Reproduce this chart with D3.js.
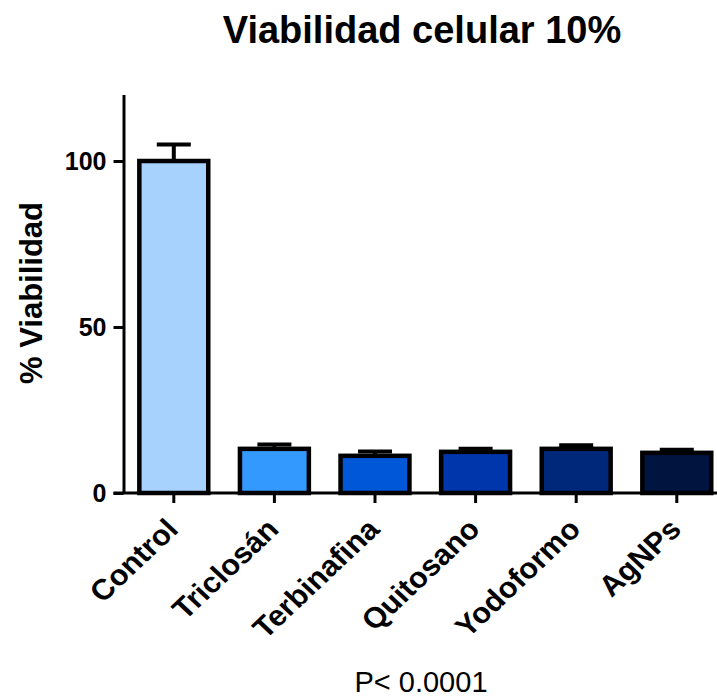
<!DOCTYPE html>
<html>
<head>
<meta charset="utf-8">
<script src="https://cdn.jsdelivr.net/npm/d3@7"></script>
<style>
  html, body { margin: 0; padding: 0; background: #fff; }
  svg { display: block; font-family: "Liberation Sans", Arial, sans-serif; }
</style>
</head>
<body>
<div id="chart"></div>
<script>
// data
var categories = ["Control", "Triclosán", "Terbinafina", "Quitosano", "Yodoformo", "AgNPs"];
var means = [100, 13.3, 11.2, 12.4, 13.3, 12.1];
var sds = [5.0, 1.3, 1.3, 0.9, 1.1, 0.9];
var barColors = ["#a6d2fd", "#3399ff", "#0057d8", "#0036ab", "#00287a", "#001440"];
var yTicks = [0, 50, 100];
var title = "Viabilidad celular 10%";
var yLabel = "% Viabilidad";
var footNote = "P< 0.0001";

function barChart(domNode) {
	var svgWidth = 717, svgHeight = 698;

	var svg = d3.select(domNode)
		.append("svg")
		.attr("width", svgWidth)
		.attr("height", svgHeight);

	var x0 = 123.5, y0 = 493;

	var xScale = d3.scaleBand()
		.domain(categories)
		.range([x0, x0 + 6 * 100.6])
		.paddingInner(0.315)
		.paddingOuter(0.1575);

	var yScale = d3.scaleLinear()
		.domain([0, 120])
		.range([y0, y0 - 120 * 3.32]);

	var data = categories.map(function(c, i) {
		return { key: c, mean: means[i], sd: sds[i], color: barColors[i] };
	});

	// bars
	var g = svg.append("g");
	g.selectAll(".bar")
		.data(data)
		.enter().append("rect")
		.attr("class", "bar")
		.attr("x", function(d) { return xScale(d.key); })
		.attr("width", xScale.bandwidth())
		.attr("y", function(d) { return yScale(d.mean); })
		.attr("height", function(d) { return y0 - yScale(d.mean); })
		.style("fill", function(d) { return d.color; })
		.style("stroke", "#000")
		.style("stroke-width", 4.5);

	// error bars (upper only)
	var err = g.selectAll(".err")
		.data(data)
		.enter().append("g")
		.attr("class", "err")
		.attr("transform", function(d) { return "translate(" + (xScale(d.key) + xScale.bandwidth() / 2) + ",0)"; });

	err.append("line")
		.attr("x1", 0).attr("x2", 0)
		.attr("y1", function(d) { return yScale(d.mean); })
		.attr("y2", function(d) { return yScale(d.mean + d.sd); })
		.style("stroke", "#000")
		.style("stroke-width", 4);

	err.append("line")
		.attr("x1", -17).attr("x2", 17)
		.attr("y1", function(d) { return yScale(d.mean + d.sd); })
		.attr("y2", function(d) { return yScale(d.mean + d.sd); })
		.style("stroke", "#000")
		.style("stroke-width", 4);

	// y axis
	var yAxis = svg.append("g")
		.attr("transform", "translate(" + x0 + ",0)")
		.call(d3.axisLeft(yScale).tickValues(yTicks).tickSize(10).tickPadding(7).tickSizeOuter(0));
	yAxis.select(".domain").style("stroke-width", 3);
	yAxis.selectAll(".tick line").style("stroke-width", 3);
	yAxis.selectAll(".tick text")
		.style("font-size", "25px")
		.style("font-weight", "bold")
		.style("fill", "#000")
		.style("font-family", "Liberation Sans, Arial, sans-serif");

	// x axis
	var xAxis = svg.append("g")
		.attr("transform", "translate(0," + y0 + ")")
		.call(d3.axisBottom(xScale).tickSize(10).tickSizeOuter(0));
	xAxis.select(".domain").attr("d", "M" + (x0 - 10) + ",0H717").style("stroke-width", 3);
	xAxis.selectAll(".tick line").style("stroke-width", 3);
	xAxis.selectAll(".tick text")
		.attr("x", 0)
		.attr("y", 0)
		.attr("dy", 0)
		.attr("transform", "translate(6,38) scale(1.06,1) rotate(-45)")
		.style("text-anchor", "end")
		.style("font-size", "29px")
		.style("font-weight", "bold")
		.style("fill", "#000")
		.style("font-family", "Liberation Sans, Arial, sans-serif");

	// y label
	svg.append("text")
		.attr("transform", "translate(42,293) rotate(-90)")
		.style("text-anchor", "middle")
		.style("font-size", "31px")
		.style("font-weight", "bold")
		.text(yLabel);

	// title
	svg.append("text")
		.attr("x", 422)
		.attr("y", 43)
		.style("text-anchor", "middle")
		.style("font-size", "38px")
		.style("font-weight", "bold")
		.text(title);

	// p value
	svg.append("text")
		.attr("x", 421)
		.attr("y", 692)
		.style("text-anchor", "middle")
		.style("font-size", "29px")
		.text(footNote);
}

barChart("#chart");
</script>
</body>
</html>
